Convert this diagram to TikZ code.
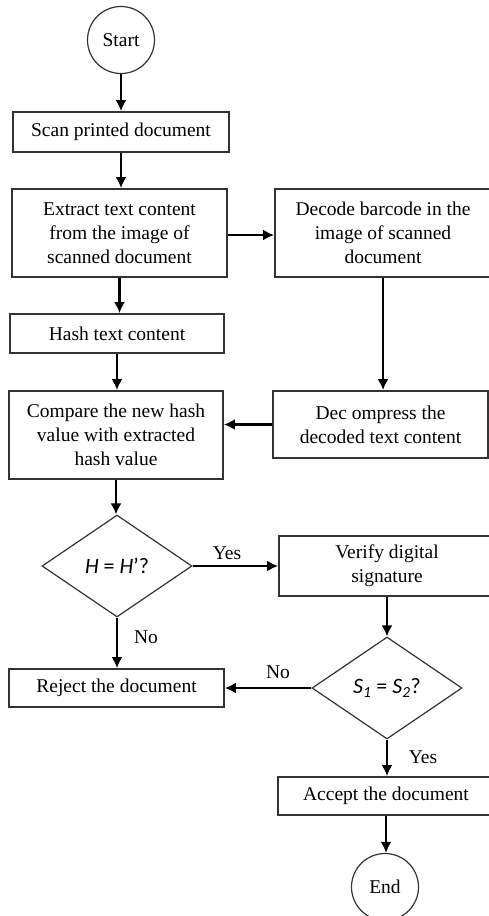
\documentclass[tikz,border=0pt]{standalone}
\usepackage{fontspec}
\setmainfont{Liberation Serif}
\newfontfamily\mathsans{Carlito}
\usetikzlibrary{shapes.geometric,arrows.meta}

\begin{document}
\begin{tikzpicture}[x=1pt,y=-1pt,
  every node/.style={font=\fontsize{19.5}{24}\selectfont, text=black},
  stepbox/.style={draw=black!80, line width=1.8pt, rectangle, inner sep=0pt, align=center},
  terminal/.style={draw=black!80, line width=1.2pt, circle, inner sep=0pt, minimum size=67pt},
  decision/.style={draw=black!80, line width=1.2pt, diamond, inner sep=0pt, aspect=1.47,
                   minimum width=150pt, minimum height=102pt,
                   font=\mathsans\fontsize{22}{26}\selectfont},
  flow/.style={line width=2.8pt, -{Latex[length=11pt,width=11pt]}},
  lbl/.style={inner sep=0pt}
]
\clip (0,0) rectangle (489,916);
\useasboundingbox (0,0) rectangle (489,916);

% left column
\node[terminal] (start) at (121,40) {Start};
\node[stepbox, minimum width=216pt, minimum height=40pt] (scan) at (121,132) {Scan printed document};
\node[stepbox, minimum width=215pt, minimum height=88pt] (extract) at (119.5,233)
  {Extract text content\\from the image of\\scanned document};
\node[stepbox, minimum width=214pt, minimum height=39pt] (hash) at (117,333.5) {Hash text content};
\node[stepbox, minimum width=214pt, minimum height=88pt] (compare) at (116,435)
  {Compare the new hash\\value with extracted\\hash value};
\node[decision] (d1) at (117,566) {\itshape H\upshape{} = \itshape H\upshape’?};
\node[stepbox, minimum width=215pt, minimum height=38pt] (reject) at (116.5,688) {Reject the document};

% right column
\node[stepbox, minimum width=216pt, minimum height=88pt] (decode) at (383,233)
  {Decode barcode in the\\image of scanned\\document};
\node[stepbox, minimum width=215pt, minimum height=67pt] (decompress) at (380.5,424.5)
  {Dec ompress the\\decoded text content};
\node[stepbox, minimum width=216pt, minimum height=60pt] (verify) at (387,566)
  {Verify digital\\signature};
\node[decision] (d2) at (387,688) {\itshape S\textsubscript{1}\upshape{} = \itshape S\textsubscript{2}\upshape?};
\node[stepbox, minimum width=216pt, minimum height=38pt] (accept) at (386,796) {Accept the document};
\node[terminal] (end) at (385,887) {End};

% connectors
\draw[flow] (start.south) -- (scan.north);
\draw[flow] (scan.south) -- (scan.south |- extract.north);
\draw[flow] ([yshift=-2pt]extract.east) -- ([yshift=-2pt]extract.east -| decode.west);
\draw[flow] (extract.south) -- (extract.south |- hash.north);
\draw[flow] (hash.south) -- (hash.south |- compare.north);
\draw[flow] (decode.south) -- (decode.south |- decompress.north);
\draw[flow] (decompress.west) -- (decompress.west -| compare.east);
\draw[flow] (compare.south) -- (compare.south |- d1.north);
\draw[flow] (d1.east) -- (d1.east -| verify.west);
\draw[flow] (d1.south) -- (d1.south |- reject.north);
\draw[flow] (verify.south) -- (d2.north);
\draw[flow] (d2.west) -- (d2.west -| reject.east);
\draw[flow] (d2.south) -- (d2.south |- accept.north);
\draw[flow] (accept.south) -- (accept.south |- end.north);

% branch labels
\node[lbl] (yes1) at (227,553) {Yes};
\node[lbl] (no1) at (146,637) {No};
\node[lbl] (no2) at (278,672) {No};
\node[lbl] (yes2) at (423,757) {Yes};
\end{tikzpicture}
\end{document}
